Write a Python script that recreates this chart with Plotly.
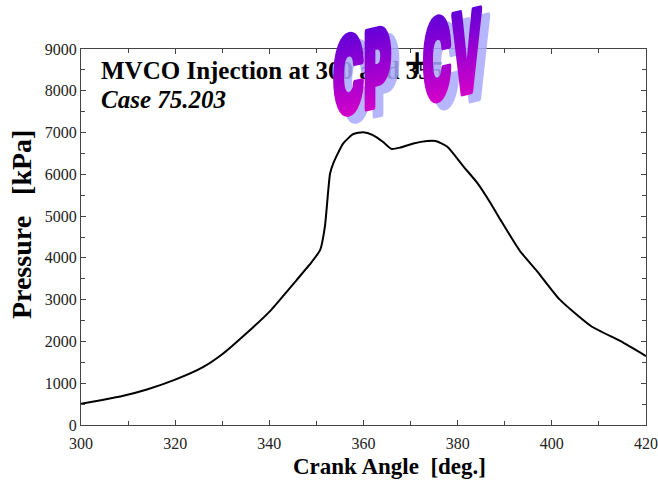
import json
import plotly.graph_objects as go

# Cylinder pressure trace
crank_angle = [300, 304.5, 309.0, 314.0, 320.0, 326.0, 330.2, 335.2, 340.1, 345.8, 348.5,
               350.8, 351.8, 352.9, 353.6, 355.7, 357.8, 359.9, 362.0, 364.1, 365.9,
               367.8, 370.6, 373.5, 375.3, 377.8, 381.3, 384.2, 387.0, 389.1, 393.2,
               396.8, 401.7, 408.3, 414.7, 420]
pressure_kpa = [510, 600, 700, 850, 1085, 1390, 1710, 2200, 2720, 3470, 3830,
                4190, 4750, 6020, 6270, 6740, 6960, 7010, 6940, 6780, 6610,
                6640, 6740, 6800, 6800, 6660, 6180, 5790, 5310, 4910, 4170,
                3690, 3000, 2370, 2000, 1650]

x_ticks = [300, 320, 340, 360, 380, 400, 420]
y_ticks = [0, 1000, 2000, 3000, 4000, 5000, 6000, 7000, 8000, 9000]

title_line1 = "MVCO Injection at 300 and 355"
title_line2 = "Case 75.203"
x_title = "Crank Angle\u00a0\u00a0[deg.]"
y_title = "Pressure\u00a0\u00a0\u00a0[kPa]"
art_left, art_plus, art_right = "CP", "+", "CV"

SERIF = "Liberation Serif, Times New Roman, serif"
HEAVY = "Inter, Roboto, Lato, DejaVu Sans, sans-serif"
AXIS_COLOR = "#444444"

fig = go.Figure()
fig.add_trace(go.Scatter(
    x=crank_angle, y=pressure_kpa, mode="lines",
    line=dict(color="black", width=2, shape="spline", smoothing=0.55),
    hoverinfo="skip",
))

axis_common = dict(
    showline=True, linecolor=AXIS_COLOR, linewidth=1, mirror="ticks",
    ticks="inside", ticklen=5, tickcolor=AXIS_COLOR, tickwidth=1,
    showgrid=False, zeroline=False, automargin=False,
    tickfont=dict(family=SERIF, size=16, color="#222222"),
)

fig.update_xaxes(
    range=[300, 420], tickvals=x_ticks, ticktext=[str(v) for v in x_ticks],
    minor=dict(dtick=10, ticks="inside", ticklen=4, tickcolor=AXIS_COLOR),
    ticklabelstandoff=4,
    **axis_common,
)
fig.update_yaxes(
    range=[0, 9000], tickvals=y_ticks, ticktext=[str(v) for v in y_ticks],
    minor=dict(dtick=500, ticks="inside", ticklen=4, tickcolor=AXIS_COLOR),
    **axis_common,
)

annotations = [
    dict(text=x_title, x=0.5455, y=-0.111, xanchor="center", yanchor="middle",
         font=dict(family=SERIF, size=23, color="black", weight="bold")),
    dict(text=y_title, x=-0.104, y=0.535, xanchor="center", yanchor="middle", textangle=-90,
         font=dict(family=SERIF, size=28, color="black", weight="bold")),
    dict(text=title_line1, x=0.032, y=0.944, xanchor="left", yanchor="middle",
         font=dict(family=SERIF, size=25, color="black", weight="bold")),
    dict(text=title_line2, x=0.032, y=0.866, xanchor="left", yanchor="middle",
         font=dict(family=SERIF, size=25, color="black", weight="bold", style="italic")),
]

# Word-art "CP + CV": shadows first, then the plus sign, then the gradient letters
word_specs = [
    dict(text=art_left, x=0.4978, y=0.9416, width=58, height=76, skew=-13),
    dict(text=art_right, x=0.657, y=0.984, width=59, height=80, skew=-13),
]
art_size = 60
shadow_idx, word_idx = [], []
for w in word_specs:
    shadow_idx.append(len(annotations))
    annotations.append(dict(text=w["text"], x=w["x"], y=w["y"], xanchor="center",
                            yanchor="middle", xshift=8, yshift=-7, opacity=0.85,
                            font=dict(family=HEAVY, size=art_size, color="#aaaaff", weight=900)))
annotations.append(dict(text=art_plus, x=0.594, y=0.9734, xanchor="center", yanchor="middle",
                        yshift=-4,
                        font=dict(family=SERIF, size=46, color="black", weight="bold")))
for w in word_specs:
    word_idx.append(len(annotations))
    annotations.append(dict(text=w["text"], x=w["x"], y=w["y"], xanchor="center",
                            yanchor="middle",
                            font=dict(family=HEAVY, size=art_size, color="#9900cc", weight=900)))

for a in annotations:
    a.update(xref="paper", yref="paper", showarrow=False)

fig.update_layout(
    width=658, height=481,
    margin=dict(l=81, r=12, t=49, b=56, autoexpand=False),
    paper_bgcolor="white", plot_bgcolor="white",
    showlegend=False,
    annotations=annotations,
)

art_spec = []
for i, w in zip(shadow_idx, word_specs):
    art_spec.append(dict(index=i, width=w["width"], height=w["height"], skew=w["skew"],
                         grad=False, thick="#aaaaff"))
for i, w in zip(word_idx, word_specs):
    art_spec.append(dict(index=i, width=w["width"], height=w["height"], skew=w["skew"],
                         grad=True, thick=None))

post_js = """
(function(){
  var gd = document.getElementById('{plot_id}');
  var spec = SPEC_JSON;
  var CAP = 0.727;
  function ensureGrad(svg){
    if (svg.querySelector('#wordartGrad')) return;
    var ns = 'http://www.w3.org/2000/svg';
    var defs = svg.querySelector('defs');
    if (!defs) { defs = document.createElementNS(ns, 'defs'); svg.insertBefore(defs, svg.firstChild); }
    var lg = document.createElementNS(ns, 'linearGradient');
    lg.setAttribute('id', 'wordartGrad');
    lg.setAttribute('x1', '0'); lg.setAttribute('y1', '0');
    lg.setAttribute('x2', '0'); lg.setAttribute('y2', '1');
    [['0.18', '#6400d8'], ['0.85', '#d800c8']].forEach(function(s){
      var st = document.createElementNS(ns, 'stop');
      st.setAttribute('offset', s[0]); st.setAttribute('stop-color', s[1]);
      lg.appendChild(st);
    });
    defs.appendChild(lg);
  }
  function apply(){
    spec.forEach(function(s){
      var g = gd.querySelector('g.annotation[data-index="' + s.index + '"]');
      if (!g) return;
      var t = g.querySelector('text');
      if (!t) return;
      g.removeAttribute('transform');
      var bb = g.getBBox(), tb = t.getBBox();
      var fs = parseFloat(t.style.fontSize) || 60;
      var sx = s.width / tb.width, sy = s.height / (CAP * fs);
      var cx = bb.x + bb.width / 2, cy = bb.y + bb.height / 2;
      g.setAttribute('transform', 'translate(' + cx + ',' + cy + ') skewY(' + s.skew + ') scale(' +
                     sx + ',' + sy + ') translate(' + (-cx) + ',' + (-cy) + ')');
      t.style.paintOrder = 'stroke';
      t.setAttribute('vector-effect', 'non-scaling-stroke');
      t.style.strokeLinejoin = 'round';
      if (s.grad) {
        ensureGrad(t.ownerSVGElement);
        t.style.fill = 'url(#wordartGrad)';
        t.style.stroke = 'url(#wordartGrad)';
        t.style.strokeWidth = '5px';
      } else {
        t.style.stroke = s.thick;
        t.style.strokeWidth = '5px';
      }
    });
  }
  apply();
  gd.on('plotly_afterplot', apply);
})();
""".replace("SPEC_JSON", json.dumps(art_spec))

fig.write_html("out.html", post_script=post_js)
